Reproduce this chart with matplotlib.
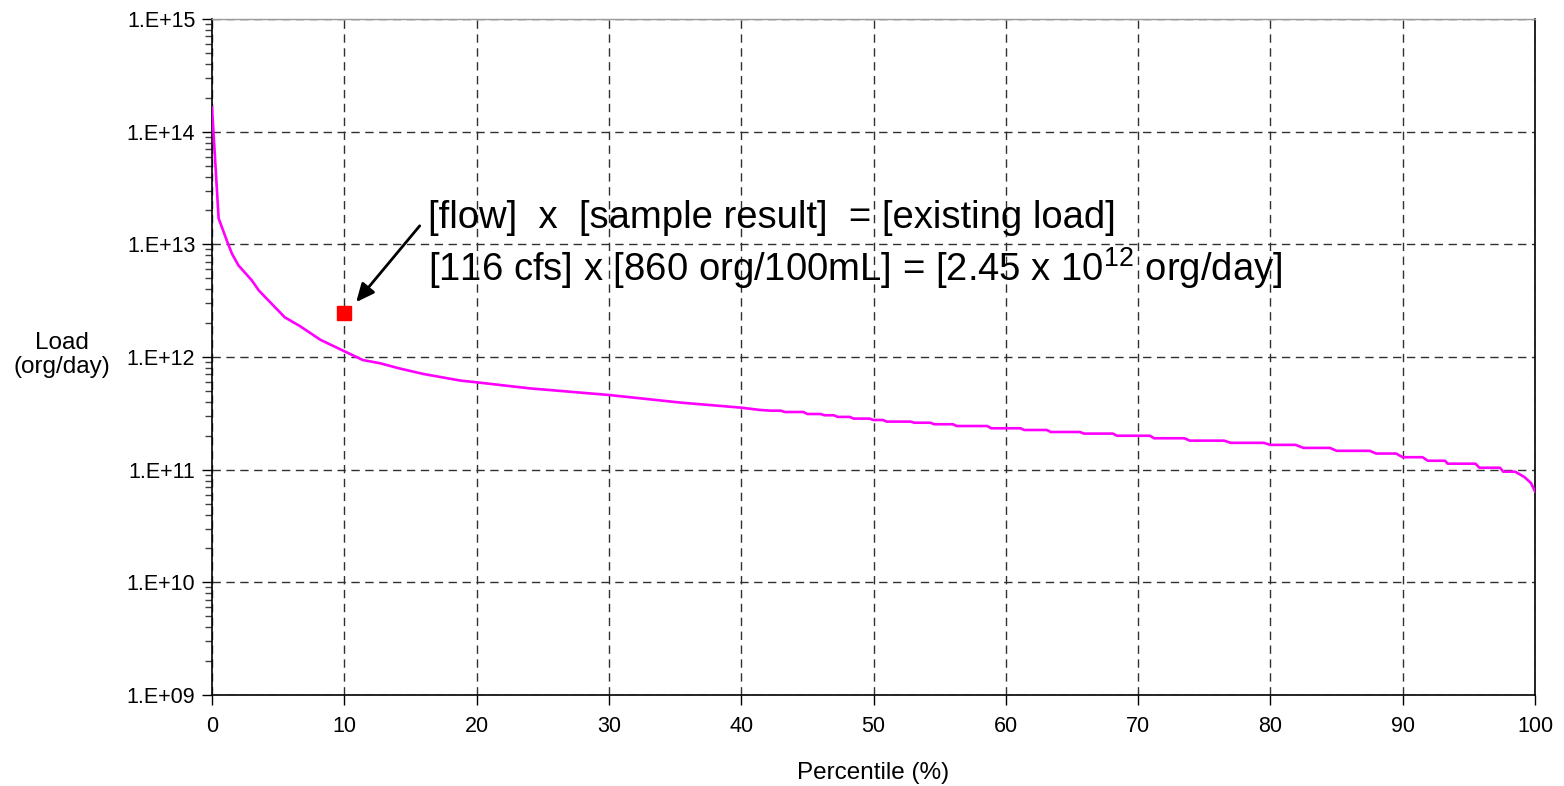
import matplotlib
matplotlib.use("Agg")
import matplotlib.pyplot as plt
from matplotlib.ticker import LogLocator, FixedLocator, FuncFormatter, NullFormatter
from matplotlib.patches import Rectangle
import numpy as np

plt.rcParams['font.family'] = ['Liberation Sans', 'DejaVu Sans']
plt.rcParams['mathtext.fontset'] = 'custom'
plt.rcParams['mathtext.rm'] = 'Liberation Sans'
plt.rcParams['mathtext.it'] = 'Liberation Sans'

# Load duration curve (percentile %, load org/day)
percentile = [0, 0.5, 1.2, 1.5, 2.0, 3.0, 3.55, 5.5, 6.65, 8.2, 9.9, 11.4, 12.7, 14.2,
              16.0, 18.8, 20.0, 24.0, 30.0, 35.4, 40.0, 41.4,
              42.2, 43.0, 43.3, 44.7, 45.0, 46.0, 46.3, 47.0, 47.3, 48.2, 48.5, 49.7,
              50.0, 50.7, 51.0, 52.8, 53.1, 54.3, 54.6, 56.0, 56.3, 58.6, 58.9, 61.1,
              61.4, 63.1, 63.4, 65.6, 65.9, 68.1, 68.4, 70.9, 71.2, 73.5,
              73.9, 76.5, 77.0, 79.5, 80.0, 81.9, 82.5, 84.5, 85.0, 87.5,
              88.0, 89.5, 90.0, 91.5, 91.9, 93.2, 93.4, 95.5, 95.8, 97.35,
              97.6, 98.5, 99.2, 99.7, 100.0]
load = [1.64e14, 1.7e13, 1.02e13, 8.3e12, 6.5e12, 4.8e12, 3.88e12, 2.25e12, 1.88e12, 1.42e12, 1.14e12, 9.4e11, 8.8e11, 7.9e11,
        7.06e11, 6.17e11, 5.96e11, 5.27e11, 4.6e11, 3.94e11, 3.55e11, 3.39e11,
        3.34e11, 3.34e11, 3.25e11, 3.25e11, 3.12e11, 3.12e11, 3.04e11, 3.04e11, 2.94e11, 2.94e11, 2.84e11, 2.84e11,
        2.76e11, 2.76e11, 2.67e11, 2.67e11, 2.61e11, 2.61e11, 2.53e11, 2.53e11, 2.44e11, 2.44e11, 2.33e11, 2.33e11,
        2.25e11, 2.25e11, 2.16e11, 2.16e11, 2.09e11, 2.09e11, 2.0e11, 2.0e11, 1.9e11, 1.9e11,
        1.81e11, 1.81e11, 1.73e11, 1.73e11, 1.66e11, 1.66e11, 1.56e11, 1.56e11, 1.47e11, 1.47e11,
        1.39e11, 1.39e11, 1.29e11, 1.29e11, 1.2e11, 1.2e11, 1.13e11, 1.13e11, 1.04e11, 1.04e11,
        9.6e10, 9.6e10, 8.6e10, 7.6e10, 6.4e10]

sample_percentile = [10]
sample_load = [2.45e12]

x_ticks = [0, 10, 20, 30, 40, 50, 60, 70, 80, 90, 100]
y_ticks = [1e9, 1e10, 1e11, 1e12, 1e13, 1e14, 1e15]

annotation_lines = ["[flow]  x  [sample result]  = [existing load]",
                    "[116 cfs] x [860 org/100mL] = [2.45 x 10$^{12}$ org/day]"]

fig = plt.figure(figsize=(15.64, 7.86), dpi=100)
ax = fig.add_axes([212/1564, 1-695/786, (1535-212)/1564, (695-19)/786])

ax.set_yscale('log')
ax.set_xlim(0, 100)
ax.set_ylim(1e9, 1e15)

ax.plot(percentile, load, color='#FF00FF', lw=1.9, zorder=3, solid_joinstyle='round')
ax.plot(sample_percentile, sample_load, 's', color='#FF0000', markersize=10, zorder=4)

ax.xaxis.set_major_locator(FixedLocator(x_ticks))
ax.yaxis.set_major_locator(FixedLocator(y_ticks))
ax.yaxis.set_minor_locator(LogLocator(base=10, subs=np.arange(2, 10)))
ax.yaxis.set_minor_formatter(NullFormatter())

def yfmt(v, pos):
    e = int(round(np.log10(v)))
    return "1.E+%02d" % e
ax.yaxis.set_major_formatter(FuncFormatter(yfmt))
ax.xaxis.set_major_formatter(FuncFormatter(lambda v, p: "%d" % v))

ax.tick_params(axis='both', which='major', direction='out', length=7, width=1, labelsize=15.5, color='black', pad=5)
ax.tick_params(axis='y', which='minor', direction='out', length=5, width=1, color='#404040')
ax.tick_params(axis='x', which='major', pad=8)

ax.grid(True, which='major', axis='both', color='#303030', linestyle=(0, (6, 4)), linewidth=1.0, zorder=1)

for s in ['left', 'bottom', 'right']:
    ax.spines[s].set_color('black')
    ax.spines[s].set_linewidth(1.2)
ax.spines['top'].set_color('#9a9a9a')
ax.spines['top'].set_linewidth(1.0)

# white text-box background that hides gridlines
ax.add_patch(Rectangle(((420-212)/1323, (695-300)/676), (1305-420)/1323, (300-190)/676,
                       transform=ax.transAxes, facecolor='white', edgecolor='none', zorder=1.5))

# Annotation arrow and text
ax.annotate('', xy=(10.9, 3.07e12), xytext=(15.7, 1.46e13),
            arrowprops=dict(arrowstyle='-|>,head_length=1.1,head_width=0.5', color='black', lw=2.0,
                            shrinkA=0, shrinkB=0), zorder=5)
ax.text(16.3, 1.72e13, annotation_lines[0], fontsize=27.5, ha='left', va='center', zorder=4)
ax.text(16.3, 6.17e12, annotation_lines[1], fontsize=27.5, ha='left', va='center', zorder=4)

fig.text(62/1564, 1-355/786, "Load\n(org/day)", ha='center', va='center', fontsize=17.5, linespacing=1.15)
fig.text(873/1564, 1-773/786, "Percentile (%)", ha='center', va='center', fontsize=17.5)

fig.savefig('out.png', dpi=100)
